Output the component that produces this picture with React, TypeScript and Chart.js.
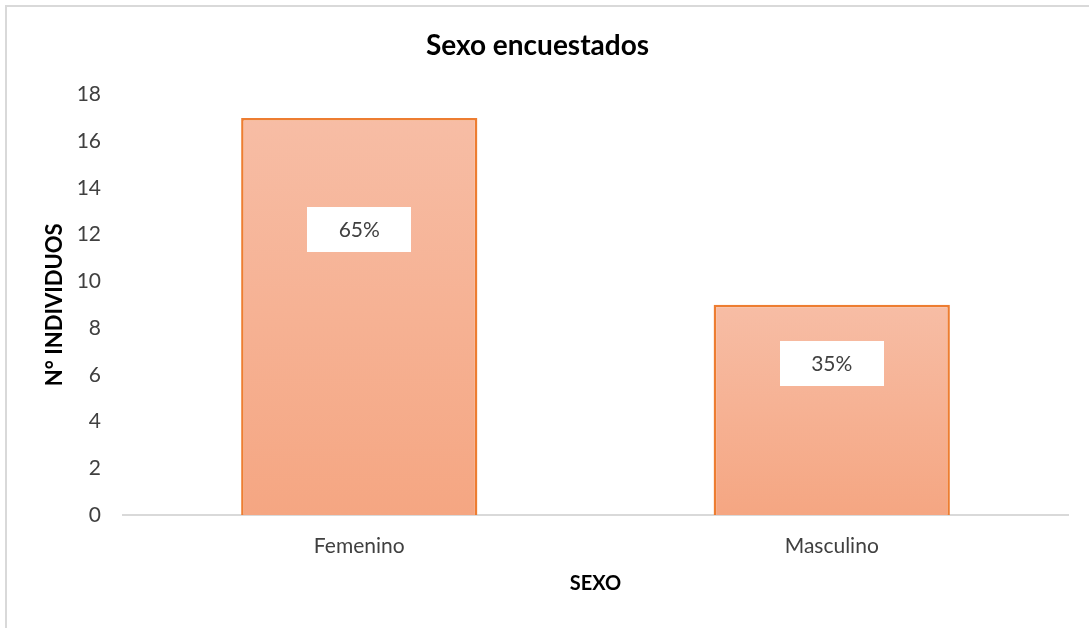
import React, { useEffect, useRef } from "react";
import { Chart, registerables } from "chart.js";

Chart.register(...registerables);

const categories = ["Femenino", "Masculino"];
const counts = [17, 9];
const yTicks = { min: 0, max: 18, step: 2 };
const chartTitle = "Sexo encuestados";
const xTitle = "SEXO";
const yTitle = "N° INDIVIDUOS";
const LABEL_FRACTION = 0.72;

const FONT = "Lato, 'Open Sans', sans-serif";
const TEXT = "#404040";

const labelPlugin = {
  id: "pctLabels",
  afterDatasetsDraw(chart: any) {
    const ctx = chart.ctx;
    const meta = chart.getDatasetMeta(0);
    const yScale = chart.scales.y;
    const total = counts.reduce((a, b) => a + b, 0);
    ctx.save();
    meta.data.forEach((bar: any, i: number) => {
      const v = counts[i];
      const cx = bar.x;
      const cy = yScale.getPixelForValue(v * LABEL_FRACTION);
      const w = 104;
      const h = 45;
      ctx.fillStyle = "#ffffff";
      ctx.fillRect(Math.round(cx - w / 2), Math.round(cy - h / 2), w, h);
      ctx.fillStyle = TEXT;
      ctx.font = `21px ${FONT}`;
      ctx.textAlign = "center";
      ctx.textBaseline = "middle";
      ctx.fillText(`${Math.round((v / total) * 100)}%`, cx, cy + 1);
    });
    ctx.restore();
  },
};

export default function App() {
  const ref = useRef<HTMLCanvasElement>(null);
  useEffect(() => {
    if (!ref.current) return;
    const chart = new Chart(ref.current, {
      type: "bar",
      data: {
        labels: categories,
        datasets: [
          {
            data: counts,
            backgroundColor: (c: any) => {
              const chart = c.chart;
              const y = chart.scales?.y;
              if (!y || c.dataIndex === undefined) return "#F6B092";
              const top = y.getPixelForValue(counts[c.dataIndex]);
              const base = y.getPixelForValue(0);
              if (!isFinite(top) || !isFinite(base) || top === base) return "#F6B092";
              const g = chart.ctx.createLinearGradient(0, top, 0, base);
              g.addColorStop(0, "#F7BDA5");
              g.addColorStop(1, "#F5A682");
              return g;
            },
            borderColor: "#ED7D31",
            borderWidth: 2.5,
            barPercentage: 0.5,
            categoryPercentage: 1,
          },
        ],
      },
      options: {
        animation: false,
        responsive: false,
        layout: { padding: { left: 0, right: 21, top: 0, bottom: 0 } },
        plugins: {
          legend: { display: false },
          tooltip: { enabled: false },
          title: {
            display: true,
            text: chartTitle,
            color: "#000000",
            font: { family: FONT, size: 28, weight: "bold" },
            padding: { top: 22, bottom: 32 },
          },
        },
        scales: {
          x: {
            grid: { display: false, drawTicks: false },
            border: { display: true, color: "#d9d9d9", width: 2 },
            ticks: { color: TEXT, font: { family: FONT, size: 21 }, padding: 19 },
            title: {
              display: true,
              text: xTitle,
              color: "#000000",
              font: { family: FONT, size: 20, weight: "bold" },
              padding: { top: 0, bottom: 31 },
            },
            afterFit: (s: any) => {
              s.height = 112;
            },
          },
          y: {
            min: yTicks.min,
            max: yTicks.max,
            grid: { display: false, drawTicks: false },
            border: { display: false },
            ticks: {
              stepSize: yTicks.step,
              color: TEXT,
              font: { family: FONT, size: 21 },
              padding: 22,
            },
            title: {
              display: true,
              text: yTitle,
              color: "#000000",
              font: { family: FONT, size: 22, weight: "bold" },
              padding: { top: 35, bottom: 0 },
            },
            afterFit: (s: any) => {
              s.width = 116;
            },
          },
        },
      } as any,
      plugins: [labelPlugin],
    });
    return () => chart.destroy();
  }, []);

  return (
    <div
      style={{
        position: "fixed",
        left: 5,
        top: 5,
        width: 1100,
        height: 640,
        border: "2px solid #d9d9d9",
        background: "#ffffff",
        boxSizing: "border-box",
      }}
    >
      <canvas ref={ref} width={1082} height={620} style={{ display: "block" }} />
    </div>
  );
}
